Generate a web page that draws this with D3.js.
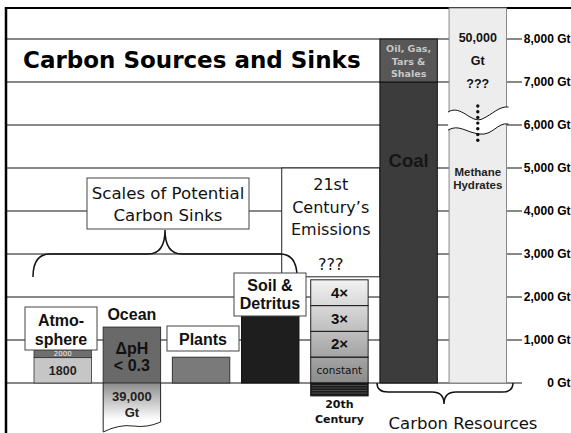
<!DOCTYPE html>
<html>
<head>
<meta charset="utf-8">
<script src="https://cdn.jsdelivr.net/npm/d3@7"></script>
<style>
  body { margin: 0; background: #fff; }
  svg { display: block; }
</style>
</head>
<body>
<svg id="chart" width="571" height="433"></svg>
<script>
// Data (Gt of carbon)
const categories = ["Atmosphere", "Ocean", "Plants", "Soil", "Emissions", "Coal", "Methane"];
const yTicks = [0, 1000, 2000, 3000, 4000, 5000, 6000, 7000, 8000];
const atmosphereYears = ["1800", "2000"];
const atmosphereGt = [590, 770];
const oceanSurfaceGt = 1300;
const oceanDeepGt = 39000;
const plantsGt = 600;
const soilGt = 1600;
const emissionLabels = ["constant", "2×", "3×", "4×"];
const emissionGt = [600, 600, 600, 600];
const twentiethCenturyGt = 300;
const coalGt = 7000;
const oilGasGt = 1000;
const methaneGt = 50000;

const width = 571, height = 433;
const svg = d3.select("#chart");

const x = d3.scaleBand().domain(categories).range([34, 506.5]).paddingInner(0.17);
const y = d3.scaleLinear().domain([0, 8000]).range([383, 39]);
const bw = x.bandwidth();
const cx = c => x(c) + bw / 2;

const boldSans = "'Liberation Sans', Arial, sans-serif";
const verdana = "'DejaVu Sans', Verdana, sans-serif";

function lines(g, arr, xPos, y0, dy, size, family, weight, fill) {
  arr.forEach((t, i) => {
    g.append("text")
      .attr("x", xPos).attr("y", y0 + i * dy)
      .attr("text-anchor", "middle")
      .style("font-family", family).style("font-weight", weight)
      .style("font-size", size + "px").style("fill", fill)
      .text(t);
  });
}

// gradients
const defs = svg.append("defs");
const eg = defs.append("linearGradient").attr("id", "emisGrad")
  .attr("gradientUnits", "userSpaceOnUse")
  .attr("x1", 0).attr("x2", 0).attr("y1", y(0)).attr("y2", y(d3.sum(emissionGt)));
eg.append("stop").attr("offset", 0).attr("stop-color", "#8a8a8a");
eg.append("stop").attr("offset", 1).attr("stop-color", "#f2f2f2");
const og = defs.append("linearGradient").attr("id", "oceanGrad")
  .attr("x1", 0).attr("x2", 0).attr("y1", 0).attr("y2", 1);
og.append("stop").attr("offset", 0).attr("stop-color", "#8c8c8c");
og.append("stop").attr("offset", 0.75).attr("stop-color", "#ffffff");

// gridlines / right axis
svg.append("g").selectAll("line").data(yTicks).join("line")
  .attr("x1", 7).attr("x2", 522)
  .attr("y1", d => y(d)).attr("y2", d => y(d))
  .attr("stroke", "#111").attr("stroke-width", 1);
svg.append("g").selectAll("text").data(yTicks).join("text")
  .attr("x", 570.5).attr("y", d => y(d) + 4)
  .attr("text-anchor", "end")
  .style("font-family", boldSans).style("font-weight", "bold").style("font-size", "12px")
  .text(d => d3.format(",")(d) + " Gt");

// frame
svg.append("line").attr("x1", 5).attr("x2", width).attr("y1", 8).attr("y2", 8)
  .attr("stroke", "#000").attr("stroke-width", 2);
svg.append("line").attr("x1", 6).attr("x2", 6).attr("y1", 7).attr("y2", height)
  .attr("stroke", "#000").attr("stroke-width", 2.5);

// title
svg.append("text").attr("x", 23).attr("y", 68)
  .style("font-family", verdana).style("font-weight", "bold").style("font-size", "23px")
  .text("Carbon Sources and Sinks");

// emissions annotation box
svg.append("rect")
  .attr("x", x("Emissions") - 29).attr("y", y(5000))
  .attr("width", x("Coal") - x("Emissions") + 29).attr("height", y(2470) - y(5000))
  .attr("fill", "#fff").attr("stroke", "#222");
lines(svg, ["21st", "Century\u2019s", "Emissions"], x("Emissions") + 20, 190, 22.5, 16, verdana, "normal", "#111");
lines(svg, ["???"], x("Emissions") + 20, 270, 0, 16, verdana, "normal", "#111");

// sinks annotation box + brace
svg.append("rect").attr("x", 87).attr("y", 178).attr("width", 162).attr("height", 51)
  .attr("fill", "#fff").attr("stroke", "#444");
lines(svg, ["Scales of Potential", "Carbon Sinks"], 168, 199, 22, 16.6, verdana, "normal", "#111");
svg.append("path")
  .attr("d", "M33,277 Q33,254 50,254 L148,254 Q165,254 165,230 Q165,254 182,254 L280,254 Q297,254 297,277")
  .attr("fill", "none").attr("stroke", "#111").attr("stroke-width", 1.5);

// Atmosphere
const atmo = svg.append("g");
atmo.selectAll("rect").data(atmosphereGt).join("rect")
  .attr("x", x("Atmosphere")).attr("width", bw)
  .attr("y", d => y(d))
  .attr("height", (d, i) => y(i ? atmosphereGt[i - 1] : 0) - y(d))
  .attr("fill", (d, i) => i ? "#6e6e6e" : "#c6c6c6")
  .attr("stroke", "#333").attr("stroke-width", 0.8);
lines(atmo, [atmosphereYears[0]], cx("Atmosphere"), (y(0) + y(atmosphereGt[0])) / 2 + 4.5, 0, 12.5, boldSans, "bold", "#222");
lines(atmo, [atmosphereYears[1]], cx("Atmosphere"), (y(atmosphereGt[0]) + y(atmosphereGt[1])) / 2 + 2.5, 0, 7, verdana, "normal", "#eee");
atmo.append("rect").attr("x", 25).attr("y", 307).attr("width", 72).attr("height", 43)
  .attr("fill", "#fff").attr("stroke", "#444");
lines(atmo, ["Atmo-", "sphere"], 61, 326, 19, 16, boldSans, "bold", "#111");

// Ocean
const oc = svg.append("g");
const ox = x("Ocean");
oc.append("path")
  .attr("d", `M${ox},${y(0)} V432 Q${ox + 16},424 ${ox + 30},426 T${ox + bw},422 V${y(0)}`)
  .attr("fill", "url(#oceanGrad)").attr("stroke", "#222");
oc.append("rect").attr("x", ox).attr("width", bw)
  .attr("y", y(oceanSurfaceGt)).attr("height", y(0) - y(oceanSurfaceGt))
  .attr("fill", "#696969").attr("stroke", "#333");
lines(oc, ["Ocean"], cx("Ocean"), y(oceanSurfaceGt) - 7, 0, 16, boldSans, "bold", "#111");
lines(oc, ["\u0394pH", "< 0.3"], cx("Ocean"), 354, 17, 16, boldSans, "bold", "#111");
lines(oc, [d3.format(",")(oceanDeepGt), "Gt"], cx("Ocean"), 401, 16, 13, boldSans, "bold", "#222");

// Plants
svg.append("rect").attr("x", x("Plants")).attr("width", bw)
  .attr("y", y(plantsGt)).attr("height", y(0) - y(plantsGt))
  .attr("fill", "#7a7a7a").attr("stroke", "#333");
svg.append("rect").attr("x", 167).attr("y", 326).attr("width", 72).attr("height", 25)
  .attr("fill", "#fff").attr("stroke", "#444");
lines(svg, ["Plants"], 203, 345, 0, 16, boldSans, "bold", "#111");

// Soil
svg.append("rect").attr("x", x("Soil")).attr("width", bw)
  .attr("y", y(soilGt)).attr("height", y(0) - y(soilGt))
  .attr("fill", "#1e1e1e").attr("stroke", "#111");
svg.append("rect").attr("x", 234).attr("y", 273).attr("width", 72).attr("height", 43)
  .attr("fill", "#fff").attr("stroke", "#444");
lines(svg, ["Soil &", "Detritus"], 270, 291, 18, 16, boldSans, "bold", "#111");

// Emissions stack
const em = svg.append("g");
const stacked = emissionGt.map((v, i) => ({ label: emissionLabels[i], y0: d3.sum(emissionGt.slice(0, i)), y1: d3.sum(emissionGt.slice(0, i + 1)) }));
em.append("rect").attr("x", x("Emissions")).attr("width", bw)
  .attr("y", y(d3.sum(emissionGt))).attr("height", y(0) - y(d3.sum(emissionGt)))
  .attr("fill", "url(#emisGrad)");
em.selectAll("rect.seg").data(stacked).join("rect").attr("class", "seg")
  .attr("x", x("Emissions")).attr("width", bw)
  .attr("y", d => y(d.y1)).attr("height", d => y(d.y0) - y(d.y1))
  .attr("fill", "none").attr("stroke", "#222");
em.selectAll("text").data(stacked).join("text")
  .attr("x", cx("Emissions"))
  .attr("y", (d, i) => (y(d.y0) + y(d.y1)) / 2 + (i ? 5 : 4))
  .attr("text-anchor", "middle")
  .style("font-family", (d, i) => i ? boldSans : verdana)
  .style("font-weight", (d, i) => i ? "bold" : "normal")
  .style("font-size", (d, i) => i ? "15px" : "10.5px")
  .style("fill", "#111")
  .text(d => d.label);
// 20th century (below the zero line)
const t0 = y(0), t1 = y(-twentiethCenturyGt);
em.append("rect").attr("x", x("Emissions")).attr("width", bw)
  .attr("y", t0).attr("height", t1 - t0).attr("fill", "#1a1a1a").attr("stroke", "#111");
d3.range(t0 + 2.5, t1 - 1, 2.5).forEach(v => {
  em.append("line").attr("x1", x("Emissions") + 1).attr("x2", x("Emissions") + bw - 1)
    .attr("y1", v).attr("y2", v).attr("stroke", "#555").attr("stroke-width", 0.8);
});
lines(em, ["20th", "Century"], cx("Emissions"), 408, 15, 11, verdana, "bold", "#111");

// Coal + oil/gas
const co = svg.append("g");
co.append("rect").attr("x", x("Coal")).attr("width", bw)
  .attr("y", y(coalGt)).attr("height", y(0) - y(coalGt))
  .attr("fill", "#3c3c3c").attr("stroke", "#111");
co.append("rect").attr("x", x("Coal")).attr("width", bw)
  .attr("y", y(coalGt + oilGasGt)).attr("height", y(coalGt) - y(coalGt + oilGasGt))
  .attr("fill", "#575757").attr("stroke", "#111");
lines(co, ["Oil, Gas,", "Tars &", "Shales"], cx("Coal"), 52, 12.5, 9.5, verdana, "bold", "#c8c8c8");
lines(co, ["Coal"], cx("Coal"), 167, 0, 18.5, boldSans, "bold", "#151515");

// Methane hydrates (broken bar)
const me = svg.append("g");
me.append("rect").attr("x", x("Methane")).attr("width", bw)
  .attr("y", 8).attr("height", y(0) - 8)
  .attr("fill", "#ededed").attr("stroke", "#888");
const mx = x("Methane");
me.append("path")
  .attr("d", `M${mx - 1},112 C${mx + 12},104 ${mx + 22},124 ${mx + 33},119 S${mx + 50},106 ${mx + bw + 2},107
              L${mx + bw + 2},124 C${mx + 48},122 ${mx + 44},136 ${mx + 30},134 S${mx + 10},124 ${mx - 1},130 Z`)
  .attr("fill", "#fff").attr("stroke", "none");
me.append("path")
  .attr("d", `M${mx - 1},112 C${mx + 12},104 ${mx + 22},124 ${mx + 33},119 S${mx + 50},106 ${mx + bw + 2},107`)
  .attr("fill", "none").attr("stroke", "#111");
me.append("path")
  .attr("d", `M${mx + bw + 2},124 C${mx + 48},122 ${mx + 44},136 ${mx + 30},134 S${mx + 10},124 ${mx - 1},130`)
  .attr("fill", "none").attr("stroke", "#111");
me.selectAll("circle").data(d3.range(7)).join("circle")
  .attr("cx", cx("Methane")).attr("cy", d => 106 + d * 5.7).attr("r", 1.7).attr("fill", "#111");
lines(me, [d3.format(",")(methaneGt), "Gt", "???"], cx("Methane"), 42, 23, 12.5, boldSans, "bold", "#111");
lines(me, ["Methane", "Hydrates"], cx("Methane"), 176, 13, 11.5, boldSans, "bold", "#222");

// resources brace
svg.append("path")
  .attr("d", "M377,383 Q377,392 388,392 L432,392 Q444,392 444,404 Q444,392 456,392 L502,392 Q513,392 513,383")
  .attr("fill", "none").attr("stroke", "#111").attr("stroke-width", 1.5);
lines(svg, ["Carbon Resources"], 463, 429, 0, 16.5, verdana, "normal", "#111");
</script>
</body>
</html>
